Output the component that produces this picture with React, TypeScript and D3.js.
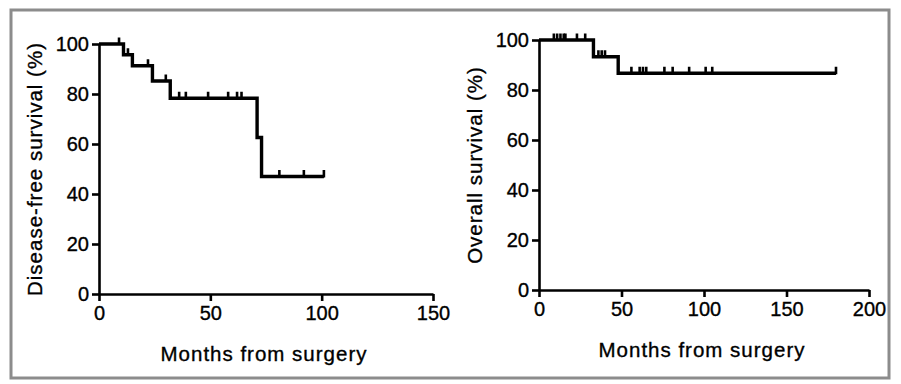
import React, { useEffect, useRef } from 'react';
import * as d3 from 'd3';

// Disease-free survival (left panel)
const dfsTimes = [0, 11, 15, 24, 32, 71, 73, 101];
const dfsSurv = [100, 95.7, 91.3, 85.2, 78.3, 62.6, 47.0, 47.0];
const dfsCensored = [9, 13, 22, 30, 36, 39, 49, 58, 62, 64, 81, 92, 101];

// Overall survival (right panel)
const osTimes = [0, 33, 48, 180];
const osSurv = [100, 93.3, 86.7, 86.7];
const osCensored = [9, 11, 13, 15, 16, 23, 28, 36, 38, 40, 56, 61, 63, 65, 76, 81, 91, 101, 105, 180];

const yTicks = [0, 20, 40, 60, 80, 100];
const leftXTicks = [0, 50, 100, 150];
const rightXTicks = [0, 50, 100, 150, 200];

const FONT = '"Liberation Sans", Arial, sans-serif';

const App = () => {
  const ref = useRef<SVGSVGElement>(null);

  useEffect(() => {
    const svg = d3.select(ref.current);
    svg.selectAll('*').remove();

    // outer frame
    svg.append('rect')
      .attr('x', 11).attr('y', 10)
      .attr('width', 878).attr('height', 368)
      .attr('fill', 'white')
      .attr('stroke', '#8c8c8c')
      .attr('stroke-width', 3);

    const panels = [
      {
        times: dfsTimes, surv: dfsSurv, cens: dfsCensored,
        xDomain: [0, 150], xRange: [99, 433], yRange: [294, 44],
        xTicks: leftXTicks, yTitle: 'Disease-free survival (%)', yTitleX: 35,
      },
      {
        times: osTimes, surv: osSurv, cens: osCensored,
        xDomain: [0, 200], xRange: [539, 869], yRange: [290, 40],
        xTicks: rightXTicks, yTitle: 'Overall survival (%)', yTitleX: 475,
      },
    ];

    panels.forEach((p) => {
      const x = d3.scaleLinear().domain(p.xDomain).range(p.xRange);
      const y = d3.scaleLinear().domain([0, 100]).range(p.yRange);
      const g = svg.append('g');

      const xAxis = g.append('g')
        .attr('transform', `translate(0,${p.yRange[0]})`)
        .call(d3.axisBottom(x).tickValues(p.xTicks).tickSize(7).tickPadding(5).tickSizeOuter(0));
      const yAxis = g.append('g')
        .attr('transform', `translate(${p.xRange[0]},0)`)
        .call(d3.axisLeft(y).tickValues(yTicks).tickSize(7).tickPadding(3).tickSizeOuter(0));

      [xAxis, yAxis].forEach((a) => {
        a.select('.domain').attr('stroke', 'black').attr('stroke-width', 2.6);
        a.selectAll('.tick line').attr('stroke', 'black').attr('stroke-width', 2.6);
        a.selectAll('.tick text')
          .attr('fill', 'black')
          .attr('stroke', 'black')
          .attr('stroke-width', 0.35)
          .style('font-family', FONT)
          .style('font-size', '20px');
      });

      // KM step curve
      const pts = p.times.map((t, i) => [t, p.surv[i]] as [number, number]);
      const line = d3.line<[number, number]>()
        .x((d) => x(d[0]))
        .y((d) => y(d[1]))
        .curve(d3.curveStepAfter);
      g.append('path')
        .attr('d', line(pts))
        .attr('fill', 'none')
        .attr('stroke', 'black')
        .attr('stroke-width', 3.4);

      // censor marks
      const survAt = (t: number) => {
        let s = p.surv[0];
        p.times.forEach((tt, i) => { if (tt <= t) s = p.surv[i]; });
        return s;
      };
      g.selectAll('.cens')
        .data(p.cens)
        .enter()
        .append('line')
        .attr('x1', (d) => x(d)).attr('x2', (d) => x(d))
        .attr('y1', (d) => y(survAt(d)) - 6.5)
        .attr('y2', (d) => y(survAt(d)) + 1)
        .attr('stroke', 'black')
        .attr('stroke-width', 2.6);

      // axis titles
      g.append('text')
        .attr('x', (p.xRange[0] + p.xRange[1]) / 2 - 2)
        .attr('y', p.yRange[0] + 67)
        .attr('text-anchor', 'middle')
        .attr('stroke', 'black')
        .attr('stroke-width', 0.35)
        .style('font-family', FONT)
        .style('font-size', '20.5px')
        .style('letter-spacing', '1px')
        .text('Months from surgery');

      g.append('text')
        .attr('transform', `translate(${p.yTitleX},${(p.yRange[0] + p.yRange[1]) / 2}) rotate(-90)`)
        .attr('text-anchor', 'middle')
        .attr('dy', '0.35em')
        .attr('stroke', 'black')
        .attr('stroke-width', 0.35)
        .style('font-family', FONT)
        .style('font-size', '20.5px')
        .style('letter-spacing', '1px')
        .text(p.yTitle);
    });
  }, []);

  return (
    <svg
      ref={ref}
      width={901}
      height={384}
      style={{ position: 'absolute', left: 0, top: 0, background: 'white' }}
    />
  );
};

export default App;
